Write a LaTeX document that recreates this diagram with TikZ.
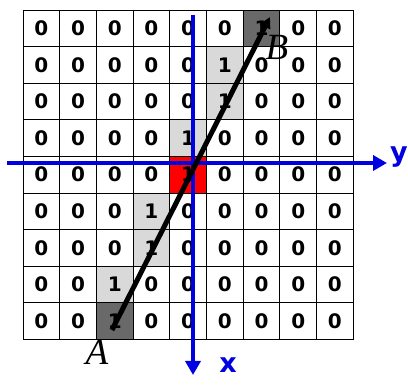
\documentclass[tikz,border=0pt]{standalone}
\usepackage{fontspec}
\usepackage{tikz}
\usetikzlibrary{arrows.meta}
\newfontfamily\gridfont{DejaVu Sans}
\newfontfamily\labelfont{Liberation Serif}
\definecolor{axisblue}{HTML}{0000E0}
\definecolor{lightcell}{HTML}{D9D9D9}
\definecolor{darkcell}{HTML}{696969}
\definecolor{pivotred}{HTML}{FF0000}

\begin{document}
\begin{tikzpicture}[x=1pt,y=-1pt,
    gridcell/.style={draw=black,line width=0.9pt,minimum width=36.7pt,minimum height=36.6pt,
      inner sep=0pt,font=\gridfont\bfseries\fontsize{20}{20}\selectfont},
    axisline/.style={axisblue,line width=3.5pt,-{Triangle[length=14pt,width=15pt]}},
    axislabel/.style={text=axisblue,inner sep=0pt,font=\gridfont\bfseries\fontsize{27}{27}\selectfont},
    segline/.style={black,line width=5pt,-{Triangle[length=11pt,width=11pt]}},
    endlabel/.style={inner sep=0pt,font=\labelfont\itshape\fontsize{37}{37}\selectfont}]
  \useasboundingbox (0,0) rectangle (408,385);
  % Grid of pixels
  \foreach \r/\k/\f in {0/6/darkcell,1/5/lightcell,2/5/lightcell,3/4/lightcell,4/4/pivotred,
      5/3/lightcell,6/3/lightcell,7/2/lightcell,8/2/darkcell}
    \foreach \c in {0,...,8} {
      \pgfmathtruncatemacro\v{\c==\k}
      \ifnum\v=1 \def\cf{\f}\else\def\cf{white}\fi
      \node[gridcell,fill=\cf] (c\r\c) at ({23+(\c+0.5)*36.7},{10+(\r+0.5)*36.6}) {\v};
    }
  % Axes
  \coordinate (yfrom) at (7,163);
  \coordinate (yto) at (387,163);
  \coordinate (xfrom) at (193,15);
  \coordinate (xto) at (193,375);
  \draw[axisline] (yfrom) -- (yto);
  \draw[axisline] (xfrom) -- (xto);
  \node[axislabel] (ylab) at (399,157) {y};
  \node[axislabel] (xlab) at (228,365) {x};
  % Segment A -> B
  \coordinate (ptA) at (112,330);
  \coordinate (ptB) at (270,17);
  \draw[segline] (ptA) -- (ptB);
  \node[endlabel] (labA) at (97,352) {A};
  \node[endlabel] (labB) at (277,47) {B};
\end{tikzpicture}
\end{document}
